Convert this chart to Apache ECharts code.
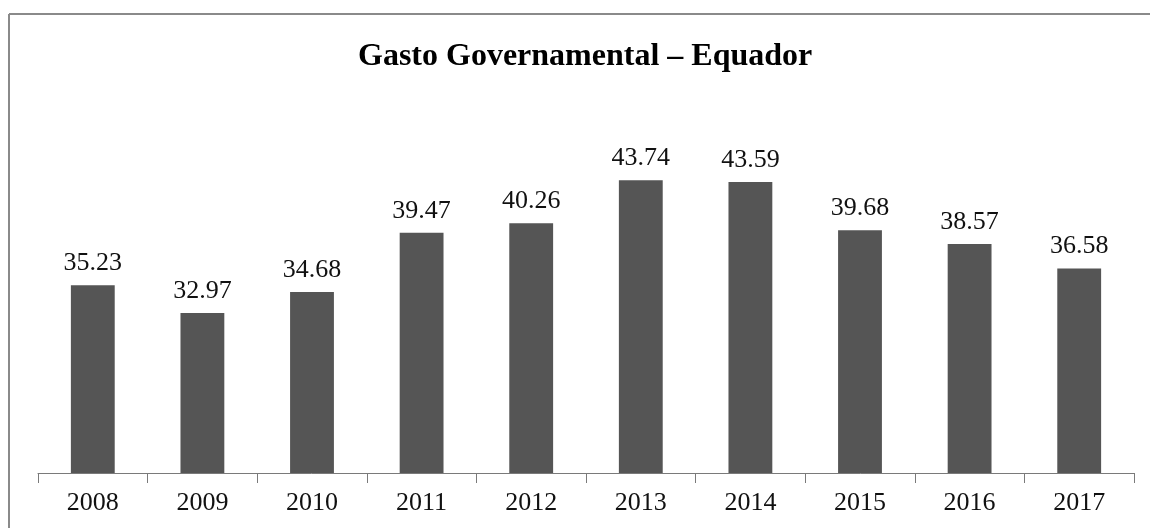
<!DOCTYPE html>
<html>
<head>
<meta charset="utf-8">
<script src="https://cdn.jsdelivr.net/npm/echarts@6/dist/echarts.min.js"></script>
<style>html,body{margin:0;padding:0;background:#fff;}#c{width:1150px;height:528px;}</style>
</head>
<body>
<div id="c"></div>
<script>
const titleText = 'Gasto Governamental – Equador';
const years = ['2008','2009','2010','2011','2012','2013','2014','2015','2016','2017'];
const values = [35.23, 32.97, 34.68, 39.47, 40.26, 43.74, 43.59, 39.68, 38.57, 36.58];

const chart = echarts.init(document.getElementById('c'), null, {renderer: 'canvas'});
chart.setOption({
  backgroundColor: '#ffffff',
  animation: false,
  title: {
    text: titleText,
    left: 353,
    top: 36,
    padding: 5,
    textStyle: {fontFamily: 'Liberation Serif', fontWeight: 'bold', fontSize: 32, color: '#000'}
  },
  graphic: [
    {type: 'line', shape: {x1: 9, y1: 14, x2: 1150, y2: 14}, style: {stroke: '#8a8a8a', lineWidth: 2}},
    {type: 'line', shape: {x1: 9, y1: 14, x2: 9, y2: 528}, style: {stroke: '#8a8a8a', lineWidth: 2}}
  ],
  grid: {left: 38, right: 16, top: 103, bottom: 55, containLabel: false},
  xAxis: {
    type: 'category',
    data: years,
    axisLine: {show: true, lineStyle: {color: '#7a7a7a', width: 1}},
    axisTick: {show: true, length: 10, alignWithLabel: false, lineStyle: {color: '#7a7a7a'}},
    axisLabel: {fontFamily: 'Liberation Serif', fontSize: 26, color: '#111', margin: 17}
  },
  yAxis: {
    type: 'value',
    min: 20,
    max: 50,
    show: false,
    splitLine: {show: false}
  },
  series: [{
    type: 'bar',
    data: values,
    barWidth: '40%',
    itemStyle: {color: '#555555'},
    label: {
      show: true,
      position: 'top',
      distance: 9,
      fontFamily: 'Liberation Serif',
      fontSize: 26,
      color: '#111',
      formatter: p => p.value.toFixed(2)
    }
  }]
});
</script>
</body>
</html>
